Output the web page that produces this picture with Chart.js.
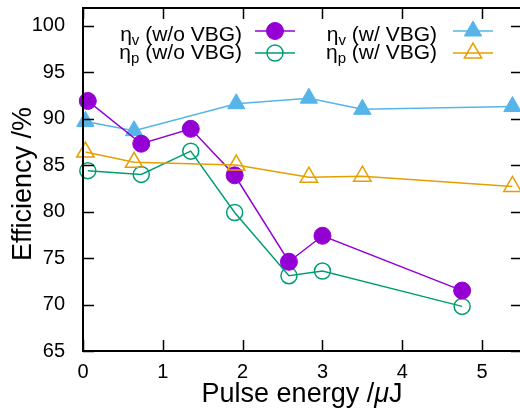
<!DOCTYPE html>
<html>
<head>
<meta charset="utf-8">
<script src="https://cdn.jsdelivr.net/npm/chart.js@4.4.1/dist/chart.umd.min.js"></script>
<style>
  html, body { margin: 0; padding: 0; background: #fff; overflow: hidden; }
</style>
</head>
<body>
<canvas id="effChart" width="524" height="410"></canvas>
<script>
// Pulse energy (uJ) and efficiencies (%) for the two set-ups
const energyNoVbg = [0.06, 0.73, 1.35, 1.90, 2.58, 3.00, 4.75];
const etaVNoVbg   = [91.9, 87.3, 88.9, 83.9, 74.6, 77.4, 71.5];
const etaPNoVbg   = [84.4, 84.0, 86.5, 79.9, 73.1, 73.6, 69.8];

const energyVbg = [0.03, 0.64, 1.92, 2.83, 3.50, 5.38];
const etaVVbg   = [89.7, 88.7, 91.6, 92.2, 91.0, 91.3];
const etaPVbg   = [86.4, 85.3, 85.0, 83.7, 83.8, 82.7];

const xTicks = [0, 1, 2, 3, 4, 5];
const yTicks = [65, 70, 75, 80, 85, 90, 95, 100];

const FONT = '"Liberation Sans", Arial, Helvetica, sans-serif';

function pts(xs, ys) {
    return xs.map((x, i) => ({ x: x, y: ys[i] }));
}

// no extra room for the end labels, the plot box is fixed
function fixBox(size) {
    return s => {
        if (s.isHorizontal()) s.height = size; else s.width = size;
        s.paddingTop = s.paddingBottom = s.paddingLeft = s.paddingRight = 0;
    };
}

// ---------------- frame, inward ticks, axis titles ----------------
const frame = {
    id: 'frame',
    afterDatasetsDraw(chart) {
        const { ctx, chartArea: a, scales } = chart;
        ctx.save();
        ctx.strokeStyle = '#000';
        ctx.lineWidth = 1.5;
        ctx.beginPath();
        xTicks.forEach(v => {
            const px = Math.round(scales.x.getPixelForValue(v)) + 0.5;
            ctx.moveTo(px, a.bottom); ctx.lineTo(px, a.bottom - 11);
            ctx.moveTo(px, a.top); ctx.lineTo(px, a.top + 11);
        });
        yTicks.forEach(v => {
            const py = Math.round(scales.y.getPixelForValue(v)) + 0.5;
            ctx.moveTo(a.left, py); ctx.lineTo(a.left + 11, py);
            ctx.moveTo(a.right, py); ctx.lineTo(a.right - 11, py);
        });
        ctx.stroke();
        ctx.lineWidth = 2;
        ctx.strokeRect(a.left, a.top, a.right - a.left, a.bottom - a.top);

        // axis titles
        ctx.fillStyle = '#000';
        ctx.textBaseline = 'alphabetic';
        const big = '27px ' + FONT;
        const it = 'italic 27px ' + FONT;
        ctx.font = big;
        const p1 = 'Pulse energy /', p3 = 'J';
        const w1 = ctx.measureText(p1).width, w3 = ctx.measureText(p3).width;
        ctx.font = it;
        const w2 = ctx.measureText('\u03bc').width;
        let tx = 302 - (w1 + w2 + w3) / 2;
        ctx.font = big; ctx.textAlign = 'left';
        ctx.fillText(p1, tx, 402);
        ctx.font = it; ctx.fillText('\u03bc', tx + w1, 402);
        ctx.font = big; ctx.fillText(p3, tx + w1 + w2, 402);

        ctx.translate(31, 184);
        ctx.rotate(-Math.PI / 2);
        ctx.textAlign = 'center';
        ctx.fillText('Efficiency /%', 0, 0);
        ctx.restore();
    }
};

// ---------------- key: text on the left, line + marker on the right ----------------
const keySlots = [
    { right: 242, lineX: [255, 295], lineY: 31, base: 41 },
    { right: 242, lineX: [255, 295], lineY: 53, base: 59 },
    { right: 437, lineX: [453, 493], lineY: 31, base: 41 },
    { right: 437, lineX: [453, 493], lineY: 53, base: 59 }
];

const key = {
    id: 'key',
    afterDraw(chart) {
        const ctx = chart.ctx;
        ctx.save();
        chart.data.datasets.forEach(ds => {
            const s = keySlots[ds.keyIndex];
            const main = ds.label[0], sub = ds.label[1], rest = ds.label.slice(2);
            ctx.fillStyle = '#000';
            ctx.textBaseline = 'alphabetic';
            ctx.textAlign = 'left';
            ctx.font = '21px ' + FONT;
            const wm = ctx.measureText(main).width, wr = ctx.measureText(rest).width;
            ctx.font = '15px ' + FONT;
            const ws = ctx.measureText(sub).width;
            let x = s.right - (wm + ws + wr);
            ctx.font = '21px ' + FONT;
            ctx.fillText(main, x, s.base);
            ctx.font = '15px ' + FONT;
            ctx.fillText(sub, x + wm, s.base + 4);
            ctx.font = '21px ' + FONT;
            ctx.fillText(rest, x + wm + ws, s.base);

            ctx.strokeStyle = ds.borderColor;
            ctx.lineWidth = ds.borderWidth;
            ctx.beginPath();
            ctx.moveTo(s.lineX[0], s.lineY);
            ctx.lineTo(s.lineX[1], s.lineY);
            ctx.stroke();

            ctx.fillStyle = ds.pointBackgroundColor;
            ctx.lineWidth = ds.pointBorderWidth;
            Chart.helpers.drawPoint(ctx, {
                pointStyle: ds.pointStyle,
                radius: ds.pointRadius,
                borderWidth: ds.pointBorderWidth,
                rotation: 0
            }, (s.lineX[0] + s.lineX[1]) / 2, s.lineY);
        });
        ctx.restore();
    }
};

const ctx = document.getElementById('effChart');
new Chart(ctx, {
    type: 'scatter',
    data: {
        datasets: [
            {
                label: '\u03b7p (w/ VBG)', keyIndex: 3, order: 0,
                data: pts(energyVbg, etaPVbg),
                borderColor: '#e69f00', pointBackgroundColor: 'rgba(0,0,0,0)',
                pointStyle: 'triangle', pointRadius: 10, pointBorderWidth: 1.5
            },
            {
                label: '\u03b7v (w/o VBG)', keyIndex: 0, order: 1,
                data: pts(energyNoVbg, etaVNoVbg),
                borderColor: '#9400d3', pointBackgroundColor: '#9400d3',
                pointStyle: 'circle', pointRadius: 8.5, pointBorderWidth: 1
            },
            {
                label: '\u03b7p (w/o VBG)', keyIndex: 1, order: 2,
                data: pts(energyNoVbg, etaPNoVbg),
                borderColor: '#009e73', pointBackgroundColor: 'rgba(0,0,0,0)',
                pointStyle: 'circle', pointRadius: 8, pointBorderWidth: 1.5
            },
            {
                label: '\u03b7v (w/ VBG)', keyIndex: 2, order: 3,
                data: pts(energyVbg, etaVVbg),
                borderColor: '#56b4e9', pointBackgroundColor: '#56b4e9',
                pointStyle: 'triangle', pointRadius: 10, pointBorderWidth: 1
            }
        ].map(ds => Object.assign(ds, {
            showLine: true,
            borderWidth: 1.5,
            pointBorderColor: ds.borderColor,
            pointHoverRadius: ds.pointRadius,
            tension: 0,
            clip: false
        }))
    },
    options: {
        responsive: false,
        animation: false,
        events: [],
        layout: { autoPadding: false, padding: { top: 8, right: 2, left: 0, bottom: 0 } },
        plugins: {
            legend: { display: false },
            tooltip: { enabled: false }
        },
        scales: {
            x: {
                type: 'linear',
                min: 0,
                max: 5.5,
                afterBuildTicks: s => { s.ticks = xTicks.map(v => ({ value: v })); },
                afterFit: fixBox(59),
                grid: { display: false },
                border: { display: false },
                ticks: { color: '#000', padding: 1, maxRotation: 0, font: { family: FONT, size: 20 } }
            },
            y: {
                type: 'linear',
                min: 65,
                max: 101.9,
                afterBuildTicks: s => { s.ticks = yTicks.map(v => ({ value: v })); },
                afterFit: fixBox(83),
                grid: { display: false },
                border: { display: false },
                ticks: { color: '#000', padding: 10, font: { family: FONT, size: 20 } }
            }
        }
    },
    plugins: [frame, key]
});
</script>
</body>
</html>
